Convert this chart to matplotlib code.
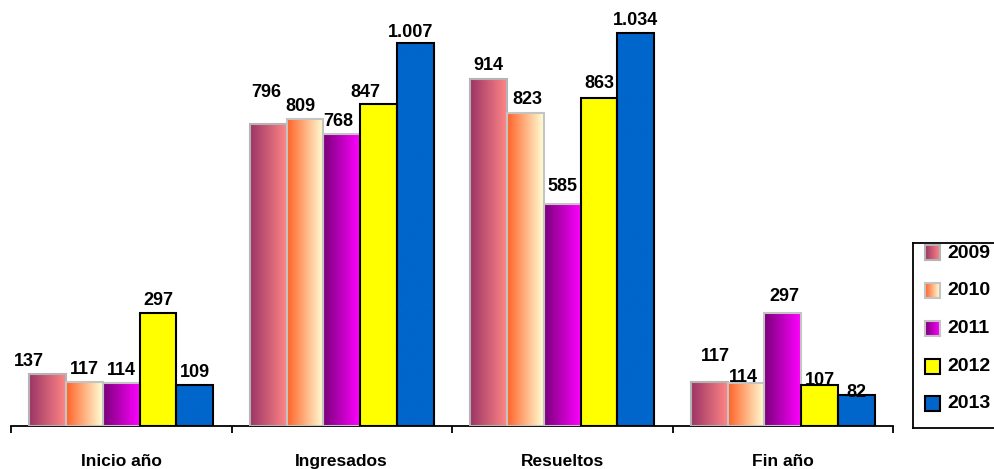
import numpy as np
import matplotlib.pyplot as plt
from matplotlib.colors import to_rgb
from matplotlib.patches import Rectangle

plt.rcParams['font.family'] = ['Liberation Sans', 'DejaVu Sans']
plt.rcParams['font.weight'] = 'bold'

categories = ['Inicio año', 'Ingresados', 'Resueltos', 'Fin año']
years = ['2009', '2010', '2011', '2012', '2013']
v2009 = [137, 796, 914, 117]
v2010 = [117, 809, 823, 114]
v2011 = [114, 768, 585, 297]
v2012 = [297, 847, 863, 107]
v2013 = [109, 1007, 1034, 82]
series = [v2009, v2010, v2011, v2012, v2013]

# fill gradient (left -> right) and edge colour per year
fills = [('#9b3566', '#ff8585'), ('#ff6329', '#ffffd6'), ('#7a007a', '#ff00ff'),
         ('#ffff00', '#ffff00'), ('#0066cc', '#0066cc')]
edges = ['#b4b4b4', '#c4c4c4', '#c4c4c4', 'black', 'black']

# value label nudges in px (dx, dy), per year then category
nudge = [[(-19, 0), (-2, 19), (0, 1), (6, 13)],
         [(0, 0), (-4, 0), (2, 2), (-3, -7)],
         [(0, 0), (-4, 1), (0, 5), (2, 5)],
         [(0, 1), (-13, 0), (0, 3), (0, -7)],
         [(0, 0), (-5, -1), (0, 1), (0, -10)]]


def gradient(c0, c1, n=64):
    a, b = np.array(to_rgb(c0)), np.array(to_rgb(c1))
    t = np.linspace(0, 1, n)[:, None]
    return (a + (b - a) * t)[None, :, :]


W, H = 994, 469
fig = plt.figure(figsize=(W / 100, H / 100), dpi=100)
ax = fig.add_axes([11 / W, 1 - 426 / H, 882 / W, 426 / H])

bw = 0.167
x = np.arange(len(categories))
for i, (vals, (c0, c1), ec) in enumerate(zip(series, fills, edges)):
    img = gradient(c0, c1)
    for j, v in enumerate(vals):
        x0 = x[j] + 0.5 + (i - 2.5) * bw
        ax.imshow(img, extent=(x0, x0 + bw, 0, v), aspect='auto',
                  interpolation='bilinear', zorder=2)
        ax.add_patch(Rectangle((x0, 0), bw, v, facecolor='none', edgecolor=ec,
                               lw=1.5, zorder=3))
        dx, dy = nudge[i][j]
        ax.annotate(f'{v:,}'.replace(',', '.'), (x0 + bw / 2, v),
                    xytext=(dx * 0.72, (12 + dy) * 0.72), textcoords='offset points',
                    ha='center', va='center', fontsize=13, fontweight='bold', zorder=4)

ax.set_xlim(0, 4)
ax.set_ylim(0, 1121)
for s in ['top', 'right', 'left']:
    ax.spines[s].set_visible(False)
ax.spines['bottom'].set_linewidth(1.3)
ax.set_yticks([])
ax.set_xticks(np.arange(5))
ax.set_xticklabels([])
ax.tick_params(axis='x', which='major', direction='out', length=5, width=1.3)
ax.set_xticks(x + 0.5, minor=True)
ax.set_xticklabels(categories, minor=True, fontsize=12.5, fontweight='bold')
ax.tick_params(axis='x', which='minor', length=0, pad=20)

# legend box, drawn in pixel coordinates (right side runs off the figure)
lax = fig.add_axes([913 / W, 1 - 428 / H, 100 / W, 185 / H])
lax.set_xticks([])
lax.set_yticks([])
for s in lax.spines.values():
    s.set_linewidth(1.3)
for i, (yr, (c0, c1), ec) in enumerate(zip(years, fills, edges)):
    yc = 253 + 37.7 * i
    lax.imshow(gradient(c0, c1), extent=(925, 940, yc + 7.5, yc - 7.5),
               aspect='auto', interpolation='bilinear', zorder=2)
    lax.add_patch(Rectangle((925, yc - 7.5), 15, 15, facecolor='none',
                            edgecolor=ec, lw=1.5, zorder=3))
    lax.text(947, yc, yr, ha='left', va='center', fontsize=14, fontweight='bold')
lax.set_xlim(913, 1013)
lax.set_ylim(428, 243)

fig.savefig('out.png', dpi=100)
